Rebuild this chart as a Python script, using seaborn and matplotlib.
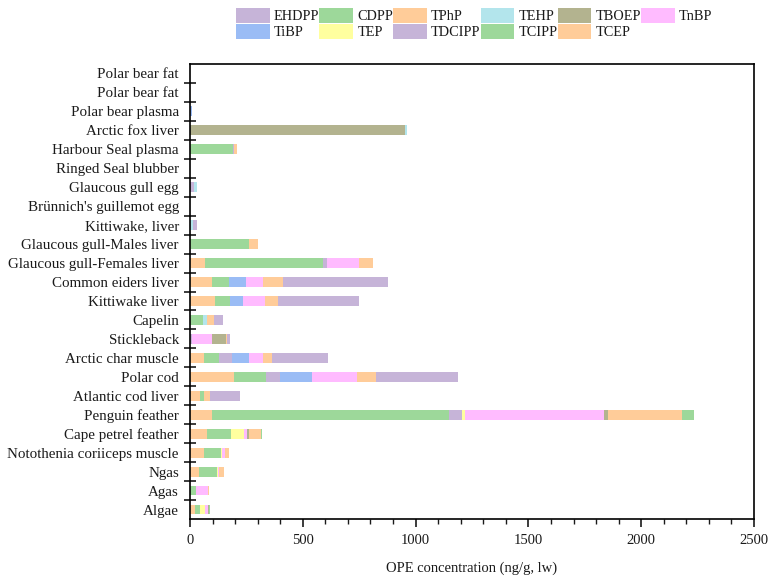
import numpy as np
import pandas as pd
import seaborn as sns
import matplotlib.pyplot as plt
from matplotlib.patches import Patch
from matplotlib.ticker import MultipleLocator

# Sample matrices, listed top to bottom
samples = [
    "Polar bear fat", "Polar bear fat", "Polar bear plasma", "Arctic fox liver",
    "Harbour Seal plasma", "Ringed Seal blubber", "Glaucous gull egg",
    "Brünnich's guillemot egg", "Kittiwake, liver", "Glaucous gull-Males liver",
    "Glaucous gull-Females liver", "Common eiders liver", "Kittiwake liver",
    "Capelin", "Stickleback", "Arctic char muscle", "Polar cod",
    "Atlantic cod liver", "Penguin feather", "Cape petrel feather",
    "Notothenia coriiceps muscle", "Ngas", "Agas", "Algae",
]

# OPE concentrations (ng/g, lw) per compound, same row order as samples
TCEP   = [0, 0, 0, 0, 0, 0, 0, 0, 0, 0, 68, 96, 111, 0, 0, 64, 197, 44, 96, 74, 62, 40, 0, 22]
TCIPP  = [0, 0, 0, 0, 191, 0, 0, 0, 0, 263, 521, 75, 68, 58, 0, 65, 141, 19, 1051, 107, 77, 78, 28, 24]
TDCIPP = [0, 0, 0, 0, 4, 0, 16, 0, 0, 0, 18, 0, 0, 0, 8, 56, 62, 0, 60, 0, 0, 0, 0, 0]
TEP    = [0, 0, 0, 0, 0, 0, 0, 0, 0, 0, 0, 0, 0, 0, 0, 0, 0, 0, 10, 59, 4, 4, 0, 21]
TiBP   = [0, 0, 7, 0, 0, 0, 0, 0, 0, 0, 0, 79, 56, 0, 0, 77, 140, 0, 0, 0, 0, 0, 0, 0]
TnBP   = [0, 0, 0, 0, 0, 0, 0, 0, 0, 0, 141, 74, 98, 0, 90, 61, 201, 0, 617, 13, 10, 8, 52, 15]
TBOEP  = [0, 0, 0, 955, 0, 0, 0, 0, 0, 0, 0, 0, 0, 0, 62, 0, 0, 0, 17, 10, 4, 0, 0, 3]
TEHP   = [0, 0, 0, 6, 0, 0, 13, 0, 12, 0, 0, 0, 0, 19, 0, 0, 0, 0, 0, 0, 0, 0, 0, 0]
TPhP   = [0, 0, 0, 0, 15, 0, 0, 0, 0, 40, 61, 87, 59, 31, 5, 41, 83, 27, 331, 50, 16, 22, 6, 0]
CDPP   = [0, 0, 0, 0, 0, 0, 0, 0, 0, 0, 0, 0, 0, 0, 0, 0, 0, 0, 53, 8, 0, 0, 0, 4]
EHDPP  = [0, 0, 0, 0, 0, 0, 0, 0, 19, 0, 0, 466, 358, 37, 12, 247, 364, 132, 0, 0, 0, 0, 0, 0]

compounds = ["TCEP", "TCIPP", "TDCIPP", "TEP", "TiBP", "TnBP",
             "TBOEP", "TEHP", "TPhP", "CDPP", "EHDPP"]
values = [TCEP, TCIPP, TDCIPP, TEP, TiBP, TnBP, TBOEP, TEHP, TPhP, CDPP, EHDPP]

colors = {
    "EHDPP": "#C6B4D8", "CDPP": "#9DD89A", "TPhP": "#FFCC99", "TEHP": "#B3E5EC",
    "TBOEP": "#B3B38F", "TnBP": "#FFBBFF", "TiBP": "#9ABCF5", "TEP": "#FFFF9F",
    "TDCIPP": "#C6B4D8", "TCIPP": "#9DD89A", "TCEP": "#FFCC99",
}

df = pd.DataFrame({name: v for name, v in zip(compounds, values)})
df["key"] = [str(i) for i in range(len(samples))]
keys = list(df["key"])
n = len(samples)

sns.set_theme(style="white")
plt.rcParams["font.family"] = ["Liberation Serif", "DejaVu Serif"]
plt.rcParams["text.color"] = "#1a1a1a"
plt.rcParams["axes.labelcolor"] = "#1a1a1a"
plt.rcParams["xtick.color"] = "#1a1a1a"
plt.rcParams["ytick.color"] = "#1a1a1a"

FS = 10.5

fig = plt.figure(figsize=(7.69, 5.79), dpi=100)
ax = fig.add_axes([190 / 769, 1 - 519 / 579, (754 - 190) / 769, (519 - 64) / 579])

# Stacked bars: draw running totals from the outermost layer inwards
cum = df[compounds].cumsum(axis=1)
for name in reversed(compounds):
    sns.barplot(x=cum[name], y=df["key"], order=keys, orient="h",
                color=colors[name], saturation=1, width=0.52,
                errorbar=None, edgecolor="none", linewidth=0, ax=ax)

ax.set_xlim(0, 2500)
ax.set_ylim(n - 0.5, -0.5)
ax.set_xticks(np.arange(0, 2501, 500))
ax.xaxis.set_minor_locator(MultipleLocator(100))
ax.set_yticks(np.arange(0.5, n - 0.5, 1), labels=[])
ax.set_yticks(np.arange(n), labels=samples, minor=True)
ax.set_ylabel("")
ax.set_xlabel("OPE concentration (ng/g, lw)", fontsize=FS, labelpad=10)

ax.tick_params(axis="y", which="major", direction="inout", length=8, width=1.2, left=True)
ax.tick_params(axis="y", which="minor", length=0, pad=8, labelsize=10.8, left=True)
ax.tick_params(axis="x", which="major", direction="out", length=6, width=1.2,
               labelsize=FS, pad=5, bottom=True)
ax.tick_params(axis="x", which="minor", direction="out", length=3.5, width=1.0, bottom=True)

for sp in ax.spines.values():
    sp.set_visible(True)
    sp.set_color("black")
    sp.set_linewidth(1.2)

# Legend laid out row-wise in two rows
legend_rows = ["EHDPP", "CDPP", "TPhP", "TEHP", "TBOEP", "TnBP",
               "TiBP", "TEP", "TDCIPP", "TCIPP", "TCEP"]
row1, row2 = legend_rows[:6], legend_rows[6:]
ordered = []
for i in range(6):
    ordered.append(row1[i])
    if i < len(row2):
        ordered.append(row2[i])
handles = [Patch(facecolor=colors[c], edgecolor="none", label=c) for c in ordered]
fig.legend(handles=handles, ncol=6, loc="upper left",
           bbox_to_anchor=(236 / 769, 1 - 8 / 579), frameon=False,
           fontsize=10.3, handlelength=2.35, handleheight=1.25, handletextpad=0.3,
           columnspacing=0.0, labelspacing=0.05, borderpad=0, borderaxespad=0)

fig.savefig("out.png", dpi=100)
